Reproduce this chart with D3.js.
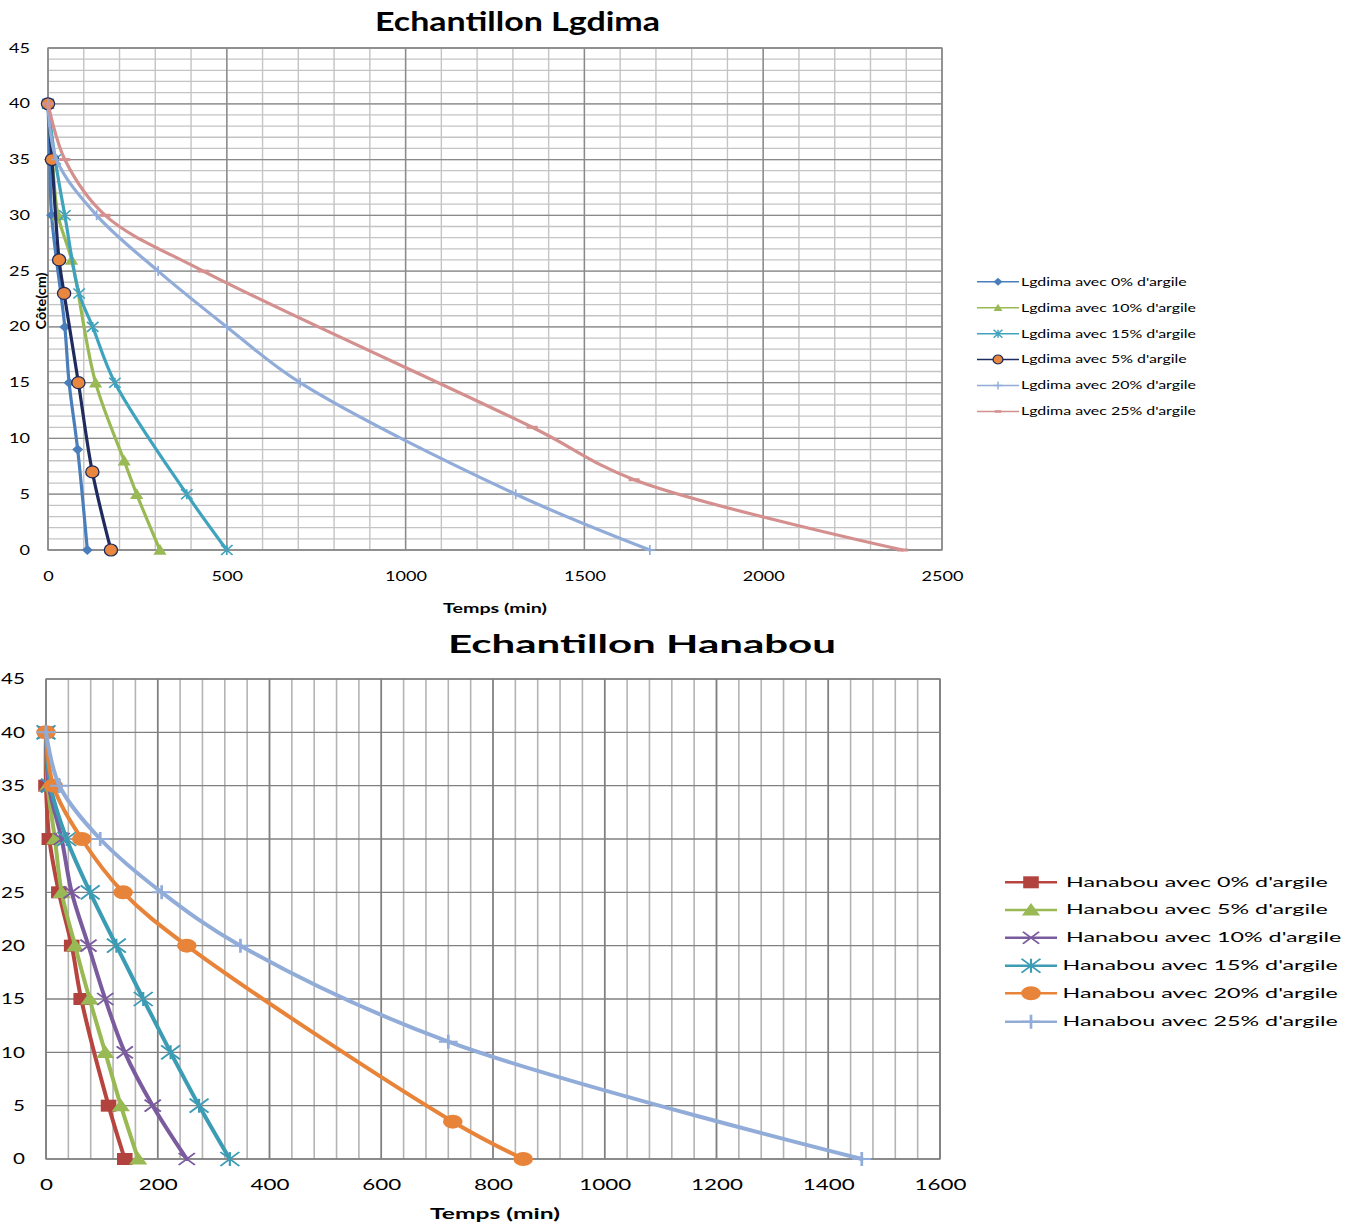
<!DOCTYPE html>
<html>
<head>
<meta charset="utf-8">
<script src="https://cdn.jsdelivr.net/npm/d3@7"></script>
<style>
  body { margin: 0; background: #fff; }
  svg { display: block; }
  text { font-family: Lato, "Open Sans", sans-serif; fill: #000; }
</style>
</head>
<body>
<svg id="chart" width="1359" height="1222"></svg>
<script>
// ---------- Lgdima sample: infiltration front, time (min) vs côte (cm) ----------
const lgdimaNames = [
  "Lgdima avec 0% d'argile", "Lgdima avec 10% d'argile", "Lgdima avec 15% d'argile",
  "Lgdima avec 5% d'argile", "Lgdima avec 20% d'argile", "Lgdima avec 25% d'argile"
];
const lg0Time  = [0, 5, 10, 47, 59, 83, 110];
const lg0Cote  = [40, 35, 30, 20, 15, 9, 0];
const lg10Time = [0, 12, 28, 66, 133, 213, 248, 313];
const lg10Cote = [40, 35, 30, 26, 15, 8, 5, 0];
const lg15Time = [0, 20, 47, 87, 125, 187, 388, 500];
const lg15Cote = [40, 35, 30, 23, 20, 15, 5, 0];
const lg5Time  = [0, 11, 31, 45, 85, 124, 176];
const lg5Cote  = [40, 35, 26, 23, 15, 7, 0];
const lg20Time = [0, 24, 136, 308, 500, 705, 1308, 1683];
const lg20Cote = [40, 35, 30, 25, 20, 15, 5, 0];
const lg25Time = [0, 47, 160, 434, 1354, 1639, 2390];
const lg25Cote = [40, 35, 30, 25, 11, 6.3, 0];

const lgXTicks = [0, 500, 1000, 1500, 2000, 2500];
const lgYTicks = [0, 5, 10, 15, 20, 25, 30, 35, 40, 45];

// ---------- Hanabou sample ----------
const hanabouNames = [
  "Hanabou avec 0% d'argile", "Hanabou avec 5% d'argile", "Hanabou avec 10% d'argile",
  "Hanabou avec 15% d'argile", "Hanabou avec 20% d'argile", "Hanabou avec 25% d'argile"
];
const hbCote   = [40, 35, 30, 25, 20, 15, 10, 5, 0];
const hb0Time  = [0, 0, 6, 23, 46, 63, 112, 141];
const hb0Cote  = [40, 35, 30, 25, 20, 15, 5, 0];
const hb5Time  = [0, 3, 16, 28, 52, 78, 106, 134, 165];
const hb10Time = [0, 5, 28, 46, 76, 106, 141, 191, 252];
const hb15Time = [0, 8, 37, 79, 126, 174, 223, 274, 329];
const hb20Time = [0, 13, 64, 138, 252, 728, 854];
const hb20Cote = [40, 35, 30, 25, 20, 3.5, 0];
const hb25Time = [0, 24, 97, 207, 348, 720, 1460];
const hb25Cote = [40, 35, 30, 25, 20, 11, 0];

const hbXTicks = [0, 200, 400, 600, 800, 1000, 1200, 1400, 1600];
const hbYTicks = [0, 5, 10, 15, 20, 25, 30, 35, 40, 45];

const zip = (t, c) => t.map((v, i) => ({ t: v, c: c[i] }));

const svg = d3.select("#chart");

// marker outlines centred on the point
function markerPath(type, r) {
  switch (type) {
    case "diamond":  return `M0,${-r}L${r},0L0,${r}L${-r},0Z`;
    case "triangle": return `M0,${-r}L${r},${r * 0.8}L${-r},${r * 0.8}Z`;
    case "square":   return `M${-r},${-r}H${r}V${r}H${-r}Z`;
    case "x":        return `M${-r},${-r}L${r},${r}M${-r},${r}L${r},${-r}`;
    case "asterisk": return `M${-r},${-r}L${r},${r}M${-r},${r}L${r},${-r}M0,${-r}L0,${r}`;
    case "plus":     return `M${-r},0L${r},0M0,${-r}L0,${r}`;
    case "dash":     return `M${-r},0L${r},0`;
  }
  return "";
}

function drawMarker(g, m, x, y) {
  const mg = g.append("g").attr("transform", `translate(${x},${y}) scale(${m.sx},1)`);
  if (m.type === "circle") {
    mg.append("circle").attr("r", m.r)
      .attr("fill", m.fill).attr("stroke", m.stroke || "none").attr("stroke-width", m.sw || 0);
  } else {
    mg.append("path").attr("d", markerPath(m.type, m.r))
      .attr("fill", m.fill || "none").attr("stroke", m.stroke || "none")
      .attr("stroke-width", m.sw || 0).attr("stroke-linecap", "butt");
  }
}

// horizontally widens a text element around its anchor point
function widen(sel, sx) {
  sel.each(function () {
    const t = d3.select(this);
    const x = +t.attr("x") || 0;
    t.attr("transform", `translate(${x * (1 - sx)},0) scale(${sx},1)`);
  });
}
function widthOf(sel) { return sel.node().getComputedTextLength(); }

function drawChart(cfg) {
  const x = d3.scaleLinear().domain(cfg.xDomain).range([cfg.left, cfg.right]);
  const y = d3.scaleLinear().domain([0, 45]).range([cfg.bottom, cfg.top]);
  const g = svg.append("g");

  // grid
  const grid = g.append("g");
  cfg.xMinor.forEach(v => grid.append("line")
    .attr("x1", x(v)).attr("x2", x(v)).attr("y1", cfg.top).attr("y2", cfg.bottom)
    .attr("stroke", cfg.minorColor).attr("stroke-width", cfg.gridW));
  cfg.yMinor.forEach(v => grid.append("line")
    .attr("x1", cfg.left).attr("x2", cfg.right).attr("y1", y(v)).attr("y2", y(v))
    .attr("stroke", cfg.hMinorColor).attr("stroke-width", cfg.gridHW));
  cfg.yTicks.forEach(v => grid.append("line")
    .attr("x1", cfg.left).attr("x2", cfg.right).attr("y1", y(v)).attr("y2", y(v))
    .attr("stroke", cfg.majorColor).attr("stroke-width", cfg.gridHW));
  cfg.xTicks.forEach(v => grid.append("line")
    .attr("x1", x(v)).attr("x2", x(v)).attr("y1", cfg.top).attr("y2", cfg.bottom)
    .attr("stroke", cfg.majorColor).attr("stroke-width", cfg.gridW));
  grid.append("rect").attr("x", cfg.left).attr("y", cfg.top)
    .attr("width", cfg.right - cfg.left).attr("height", cfg.bottom - cfg.top)
    .attr("fill", "none").attr("stroke", cfg.majorColor).attr("stroke-width", 1.3);

  // axes (labels only)
  const xa = g.append("g").attr("transform", `translate(0,${cfg.bottom})`)
    .call(d3.axisBottom(x).tickValues(cfg.xTicks).tickSize(0).tickPadding(cfg.xPad).tickFormat(d3.format("d")));
  const ya = g.append("g").attr("transform", `translate(${cfg.left},0)`)
    .call(d3.axisLeft(y).tickValues(cfg.yTicks).tickSize(0).tickPadding(cfg.yPad).tickFormat(d3.format("d")));
  [xa, ya].forEach(a => {
    a.select(".domain").remove();
    a.selectAll("text").attr("font-family", "Lato").attr("font-size", cfg.tickFont).attr("fill", "#000");
  });
  // widen tick labels so a reference label reaches its measured width
  const refTick = xa.selectAll("text").filter(d => d === cfg.tickRef.value);
  const tickSx = cfg.tickRef.width / widthOf(refTick);
  widen(xa.selectAll("text"), tickSx);
  widen(ya.selectAll("text"), tickSx * (cfg.yTickShrink || 1));

  // series
  const line = d3.line().x(d => x(d.t)).y(d => y(d.c)).curve(d3.curveCatmullRom.alpha(0.5));
  const sg = g.append("g");
  cfg.series.forEach(s => {
    sg.append("path").datum(s.data).attr("d", line)
      .attr("fill", "none").attr("stroke", s.color).attr("stroke-width", cfg.lineW)
      .attr("stroke-linejoin", "round").attr("stroke-linecap", "round");
    s.data.forEach(d => drawMarker(sg, s.marker, x(d.t), y(d.c)));
  });

  // legend
  const lg = g.append("g");
  const texts = [];
  cfg.series.forEach((s, i) => {
    const ly = cfg.legend.y[i];
    lg.append("line").attr("x1", cfg.legend.x0).attr("x2", cfg.legend.x1)
      .attr("y1", ly).attr("y2", ly).attr("stroke", s.color).attr("stroke-width", cfg.legend.lineW);
    drawMarker(lg, s.legendMarker || s.marker, (cfg.legend.x0 + cfg.legend.x1) / 2, ly);
    texts.push(lg.append("text").attr("x", cfg.legend.tx[i]).attr("y", ly + cfg.legend.dy)
      .attr("font-size", cfg.legend.font).text(s.name));
  });
  const legSx = cfg.legend.refWidth / widthOf(texts[0]);
  texts.forEach(t => widen(t, legSx));

  // titles
  svg.append("text").attr("x", cfg.title.x).attr("y", cfg.title.y)
    .attr("font-size", cfg.title.size).attr("font-weight", 700)
    .attr("textLength", cfg.title.w).attr("lengthAdjust", "spacingAndGlyphs")
    .text(cfg.title.text);
  svg.append("text").attr("x", cfg.xTitle.x).attr("y", cfg.xTitle.y)
    .attr("font-size", cfg.xTitle.size).attr("font-weight", 700)
    .attr("textLength", cfg.xTitle.w).attr("lengthAdjust", "spacingAndGlyphs")
    .text("Temps (min)");
  if (cfg.yTitle) {
    svg.append("text")
      .attr("transform", `translate(${cfg.yTitle.x},${cfg.yTitle.y}) rotate(-90)`)
      .attr("text-anchor", "middle").attr("font-size", cfg.yTitle.size).attr("font-weight", 700)
      .attr("textLength", cfg.yTitle.w).attr("lengthAdjust", "spacingAndGlyphs")
      .text(cfg.yTitle.text);
  }
}

// ---------- top chart ----------
drawChart({
  left: 48, right: 942, top: 48, bottom: 550,
  xDomain: [0, 2500],
  xTicks: lgXTicks, yTicks: lgYTicks,
  xMinor: d3.range(0, 2501, 100), yMinor: d3.range(0, 46, 1),
  minorColor: "#c4c4c4", hMinorColor: "#c4c4c4", majorColor: "#8a8a8a",
  gridW: 1.4, gridHW: 1.3,
  xPad: 22, yPad: 18, tickFont: 12.5, tickRef: { value: 1000, width: 42 },
  lineW: 3.2,
  series: [
    { name: lgdimaNames[0], color: "#4A7EBB", data: zip(lg0Time, lg0Cote),
      marker: { type: "diamond", r: 5, fill: "#4A7EBB", sx: 1.1 },
      legendMarker: { type: "diamond", r: 4, fill: "#4A7EBB", sx: 1.1 } },
    { name: lgdimaNames[1], color: "#98B954", data: zip(lg10Time, lg10Cote),
      marker: { type: "triangle", r: 6, fill: "#98B954", sx: 1.1 },
      legendMarker: { type: "triangle", r: 4, fill: "#98B954", sx: 1.1 } },
    { name: lgdimaNames[2], color: "#40A3BE", data: zip(lg15Time, lg15Cote),
      marker: { type: "asterisk", r: 5, stroke: "#40A3BE", sw: 1.5, sx: 1.15 },
      legendMarker: { type: "asterisk", r: 4, stroke: "#40A3BE", sw: 1.3, sx: 1.1 } },
    { name: lgdimaNames[3], color: "#1F2B5E", data: zip(lg5Time, lg5Cote),
      marker: { type: "circle", r: 6, fill: "#E8873D", stroke: "#1F2B5E", sw: 1.2, sx: 1.1 },
      legendMarker: { type: "circle", r: 4.5, fill: "#E8873D", stroke: "#1F2B5E", sw: 1.2, sx: 1.1 } },
    { name: lgdimaNames[4], color: "#91ACD8", data: zip(lg20Time, lg20Cote),
      marker: { type: "plus", r: 5, stroke: "#91ACD8", sw: 1.5, sx: 1.1 },
      legendMarker: { type: "plus", r: 4, stroke: "#91ACD8", sw: 1.3, sx: 1.1 } },
    { name: lgdimaNames[5], color: "#D4908E", data: zip(lg25Time, lg25Cote),
      marker: { type: "dash", r: 5, stroke: "#D4908E", sw: 3, sx: 1.1 },
      legendMarker: { type: "dash", r: 3, stroke: "#D4908E", sw: 2.5, sx: 1.1 } }
  ],
  legend: { x0: 977, x1: 1019, y: [281.7, 307.7, 333.7, 359.5, 385.5, 411.5],
            tx: [1021, 1021, 1021, 1021, 1021, 1021], dy: 4, font: 11.5, lineW: 1.5, refWidth: 166 },
  title: { text: "Echantillon Lgdima", x: 375, y: 31, size: 27, w: 285 },
  xTitle: { x: 443, y: 613, size: 14, w: 104 },
  yTitle: { text: "Côte(cm)", x: 46, y: 301, size: 12.5, w: 57 }
});

// ---------- bottom chart ----------
drawChart({
  left: 46, right: 940, top: 679, bottom: 1159,
  xDomain: [0, 1600],
  xTicks: hbXTicks, yTicks: hbYTicks,
  xMinor: d3.range(0, 1601, 40), yMinor: [],
  minorColor: "#b4b4b4", hMinorColor: "#a6a6a6", majorColor: "#808080",
  gridW: 1.6, gridHW: 1.4,
  xPad: 20, yPad: 21, tickFont: 15, tickRef: { value: 1400, width: 52 }, yTickShrink: 0.92,
  lineW: 4,
  series: [
    { name: hanabouNames[0], color: "#B8443F", data: zip(hb0Time, hb0Cote),
      marker: { type: "square", r: 6, fill: "#B2423E", sx: 1.3 } },
    { name: hanabouNames[1], color: "#98B954", data: zip(hb5Time, hbCote),
      marker: { type: "triangle", r: 7, fill: "#98B954", sx: 1.3 } },
    { name: hanabouNames[2], color: "#7A5B9E", data: zip(hb10Time, hbCote),
      marker: { type: "x", r: 6, stroke: "#7A5B9E", sw: 1.6, sx: 1.35 } },
    { name: hanabouNames[3], color: "#3C9CB4", data: zip(hb15Time, hbCote),
      marker: { type: "asterisk", r: 7, stroke: "#3C9CB4", sw: 1.6, sx: 1.35 } },
    { name: hanabouNames[4], color: "#E7843A", data: zip(hb20Time, hb20Cote),
      marker: { type: "circle", r: 7, fill: "#E7843A", sx: 1.4 } },
    { name: hanabouNames[5], color: "#91ACD8", data: zip(hb25Time, hb25Cote),
      marker: { type: "plus", r: 7, stroke: "#91ACD8", sw: 2, sx: 1.35 } }
  ],
  legend: { x0: 1005, x1: 1057, y: [882.3, 910, 937.7, 965.7, 993.3, 1021.7],
            tx: [1066, 1066, 1066, 1062.5, 1062.5, 1062.5], dy: 4.5, font: 12.5, lineW: 2.5, refWidth: 262 },
  title: { text: "Echantillon Hanabou", x: 448, y: 653, size: 25, w: 388 },
  xTitle: { x: 430, y: 1219, size: 15.5, w: 130 },
  yTitle: null
});
</script>
</body>
</html>
